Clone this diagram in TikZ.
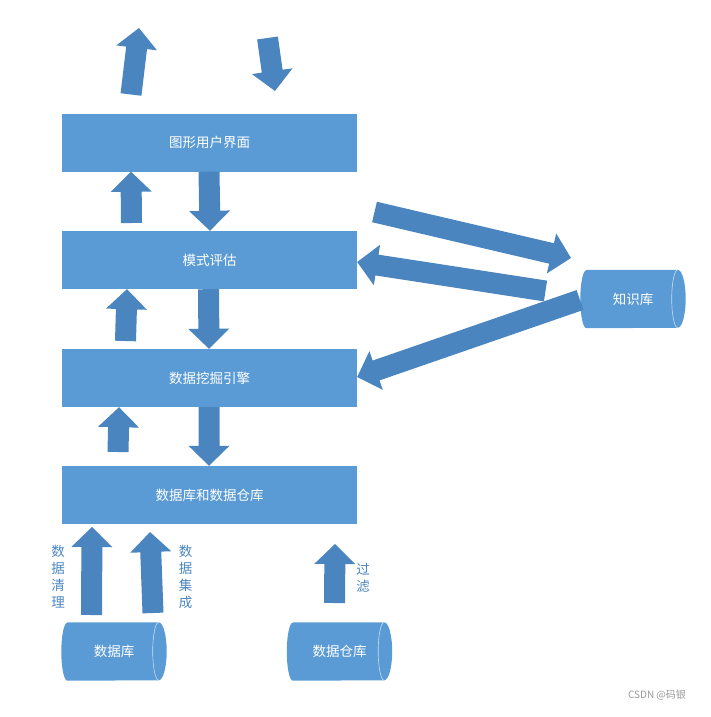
\documentclass[tikz,border=0pt]{standalone}
\usepackage{fontspec}
\setmainfont{Noto Sans CJK SC}
\usetikzlibrary{calc,backgrounds}

\definecolor{boxblue}{RGB}{91,155,213}
\definecolor{arrowblue}{RGB}{74,133,192}

% fat block arrow from #1 (tail) to #2 (tip)
\newcommand{\blockarrow}[2]{%
    \coordinate (ah) at ($(#2)!20pt!(#1)$);
    \fill[fatarrow] ($(#1)!10.5pt!90:(#2)$) -- ($(ah)!10.5pt!90:(#2)$) -- ($(ah)!20.5pt!90:(#2)$) -- (#2)
        -- ($(ah)!20.5pt!-90:(#2)$) -- ($(ah)!10.5pt!-90:(#2)$) -- ($(#1)!10.5pt!-90:(#2)$) -- cycle;
}

% lying cylinder behind store node #1
\newcommand{\storebody}[1]{%
    \fill[boxblue] ($(#1.north west)+(6,0)$) -- ($(#1.north east)+(-8,0)$)
        arc[start angle=90, end angle=-90, x radius=8pt, y radius=29pt]
        -- ($(#1.south west)+(6,0)$) arc[start angle=270, end angle=90, x radius=6pt, y radius=29pt] -- cycle;
    \draw[endline] ($(#1.north east)+(-8,0)$) arc[start angle=90, end angle=270, x radius=6pt, y radius=29pt];
}

\tikzset{
    layer/.style={fill=boxblue, text=white, minimum width=295pt, minimum height=58pt, inner sep=0pt, font=\fontsize{13.5}{16}\selectfont},
    store/.style={text=white, minimum width=105pt, minimum height=58pt, inner sep=0pt, font=\fontsize{13.5}{16}\selectfont},
    endline/.style={draw=white!65!boxblue, line width=0.6pt},
    sidelabel/.style={text=arrowblue, align=center, inner sep=0pt, font=\fontsize{13.5}{17}\selectfont},
    fatarrow/.style={fill=arrowblue}
}

\begin{document}
\begin{tikzpicture}[x=1pt, y=-1pt]
    \useasboundingbox (0,0) rectangle (711,717);

    % the four layers
    \foreach \y/\name/\txt in {142.5/gui/图形用户界面, 260/eval/模式评估, 378/engine/数据挖掘引擎, 495/dbwh/数据库和数据仓库} {
        \node[layer] (\name) at (209.5,\y) {\txt};
    }

    % stores
    \node[store] (kb) at (633,299) {知识库};
    \node[store] (db) at (114,651.5) {数据库};
    \node[store] (wh) at (339.5,651.5) {数据仓库};
    \begin{pgfonlayer}{background}
        \foreach \s in {kb,db,wh} { \storebody{\s} }
    \end{pgfonlayer}

    % arrow ends
    \coordinate (out-a) at (131,94.5);   \coordinate (out-b) at (139,28);
    \coordinate (in-a) at (267.5,38);    \coordinate (in-b) at (275,91);
    \coordinate (up1-a) at (131.5,223);  \coordinate (up1-b) at (131,0 |- gui.south);
    \coordinate (dn1-a) at (209,0 |- gui.south);   \coordinate (dn1-b) at (210,0 |- eval.north);
    \coordinate (up2-a) at (125.5,341);  \coordinate (up2-b) at (127,0 |- eval.south);
    \coordinate (dn2-a) at (208.5,0 |- eval.south); \coordinate (dn2-b) at (209,0 |- engine.north);
    \coordinate (up3-a) at (118,452);    \coordinate (up3-b) at (119,0 |- engine.south);
    \coordinate (dn3-a) at (209,0 |- engine.south); \coordinate (dn3-b) at (209,0 |- dbwh.north);
    \coordinate (kb1-a) at (374.5,212);  \coordinate (kb1-b) at (571,258);
    \coordinate (kb2-a) at (545.5,291);  \coordinate (kb2-b) at (eval.east |- 0,262);
    \coordinate (kb3-a) at (580,300);    \coordinate (kb3-b) at (engine.east |- 0,377);
    \coordinate (cl-a) at (91.5,615);    \coordinate (cl-b) at (92,527);
    \coordinate (ig-a) at (153,613);     \coordinate (ig-b) at (150,532);
    \coordinate (ft-a) at (334.5,603);   \coordinate (ft-b) at (335,544);

    \foreach \n in {out,in,up1,dn1,up2,dn2,up3,dn3,kb1,kb2,kb3,cl,ig,ft} { \blockarrow{\n-a}{\n-b} }

    % labels of the bottom arrows
    \node[sidelabel] (clean) at (58,577) {数\\据\\清\\理};
    \node[sidelabel] (integ) at (185.5,577) {数\\据\\集\\成};
    \node[sidelabel] (filter) at (363,577.5) {过\\滤};

    \node[text=gray!80, font=\fontsize{10}{12}\selectfont] (mark) at (657,695) {CSDN @码银};
\end{tikzpicture}
\end{document}
